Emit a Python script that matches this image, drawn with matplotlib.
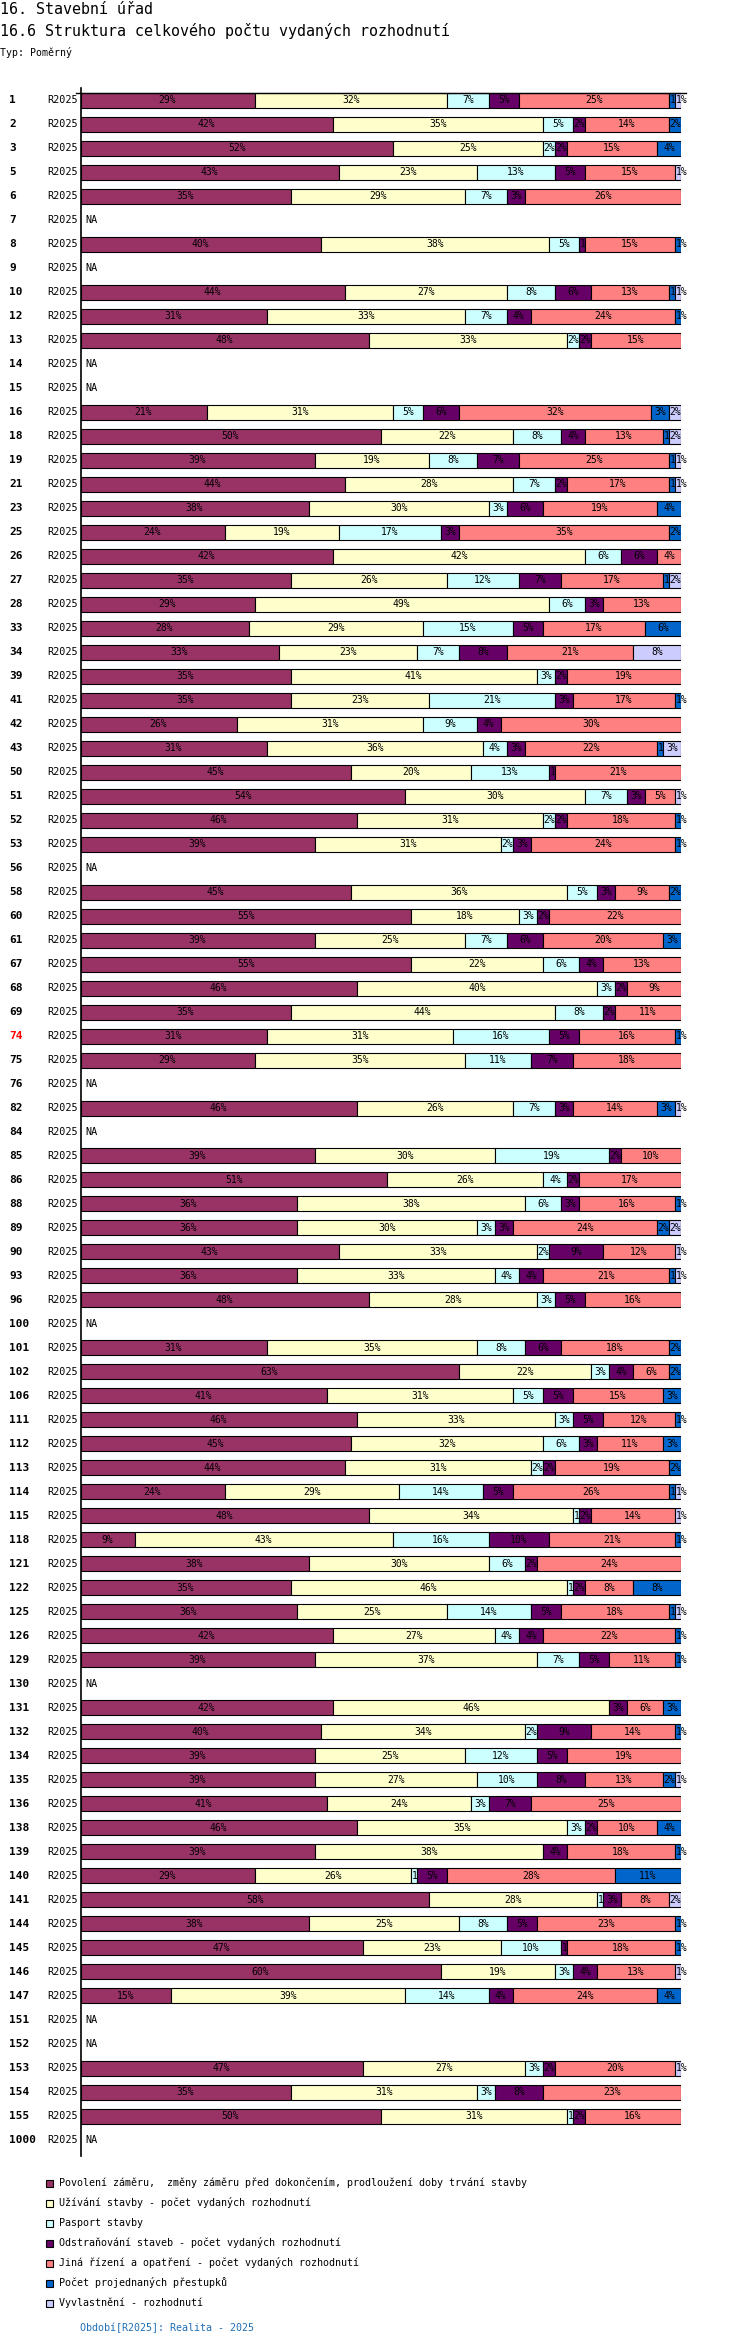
import matplotlib
matplotlib.use('Agg')
import matplotlib.pyplot as plt
from matplotlib.patches import Rectangle
from matplotlib.transforms import blended_transform_factory

plt.rcParams['font.family'] = ['DejaVu Sans Mono', 'DejaVu Sans']

# --- data (percent shares per municipality, None = NA) ---
rows = [1, 2, 3, 5, 6, 7, 8, 9, 10, 12, 13, 14, 15, 16, 18, 19, 21, 23, 25, 26,
        27, 28, 33, 34, 39, 41, 42, 43, 50, 51, 52, 53, 56, 58, 60, 61, 67, 68, 69, 74,
        75, 76, 82, 84, 85, 86, 88, 89, 90, 93, 96, 100, 101, 102, 106, 111, 112, 113, 114, 115,
        118, 121, 122, 125, 126, 129, 130, 131, 132, 134, 135, 136, 138, 139, 140, 141, 144, 145, 146, 147,
        151, 152, 153, 154, 155, 1000]
highlight_row = 74
period = 'R2025'

N = None
povoleni = [29, 42, 52, 43, 35, N, 40, N, 44, 31, 48, N, N, 21, 50, 39, 44, 38, 24, 42,
            35, 29, 28, 33, 35, 35, 26, 31, 45, 54, 46, 39, N, 45, 55, 39, 55, 46, 35, 31,
            29, N, 46, N, 39, 51, 36, 36, 43, 36, 48, N, 31, 63, 41, 46, 45, 44, 24, 48,
            9, 38, 35, 36, 42, 39, N, 42, 40, 39, 39, 41, 46, 39, 29, 58, 38, 47, 60, 15,
            N, N, 47, 35, 50, N]
uzivani = [32, 35, 25, 23, 29, N, 38, N, 27, 33, 33, N, N, 31, 22, 19, 28, 30, 19, 42,
           26, 49, 29, 23, 41, 23, 31, 36, 20, 30, 31, 31, N, 36, 18, 25, 22, 40, 44, 31,
           35, N, 26, N, 30, 26, 38, 30, 33, 33, 28, N, 35, 22, 31, 33, 32, 31, 29, 34,
           43, 30, 46, 25, 27, 37, N, 46, 34, 25, 27, 24, 35, 38, 26, 28, 25, 23, 19, 39,
           N, N, 27, 31, 31, N]
pasport = [7, 5, 2, 13, 7, N, 5, N, 8, 7, 2, N, N, 5, 8, 8, 7, 3, 17, 6,
           12, 6, 15, 7, 3, 21, 9, 4, 13, 7, 2, 2, N, 5, 3, 7, 6, 3, 8, 16,
           11, N, 7, N, 19, 4, 6, 3, 2, 4, 3, N, 8, 3, 5, 3, 6, 2, 14, 1,
           16, 6, 1, 14, 4, 7, N, 0, 2, 12, 10, 3, 3, 0, 1, 1, 8, 10, 3, 14,
           N, N, 3, 3, 1, N]
odstranovani = [5, 2, 2, 5, 3, N, 1, N, 6, 4, 2, N, N, 6, 4, 7, 2, 6, 3, 6,
                7, 3, 5, 8, 2, 3, 4, 3, 1, 3, 2, 3, N, 3, 2, 6, 4, 2, 2, 5,
                7, N, 3, N, 2, 2, 3, 3, 9, 4, 5, N, 6, 4, 5, 5, 3, 2, 5, 2,
                10, 2, 2, 5, 4, 5, N, 3, 9, 5, 8, 7, 2, 4, 5, 3, 5, 1, 4, 4,
                N, N, 2, 8, 2, N]
jina = [25, 14, 15, 15, 26, N, 15, N, 13, 24, 15, N, N, 32, 13, 25, 17, 19, 35, 4,
        17, 13, 17, 21, 19, 17, 30, 22, 21, 5, 18, 24, N, 9, 22, 20, 13, 9, 11, 16,
        18, N, 14, N, 10, 17, 16, 24, 12, 21, 16, N, 18, 6, 15, 12, 11, 19, 26, 14,
        21, 24, 8, 18, 22, 11, N, 6, 14, 19, 13, 25, 10, 18, 28, 8, 23, 18, 13, 24,
        N, N, 20, 23, 16, N]
prestupky = [1, 2, 4, 0, 0, N, 1, N, 1, 1, 0, N, N, 3, 1, 1, 1, 4, 2, 0,
             1, 0, 6, 0, 0, 1, 0, 1, 0, 0, 1, 1, N, 2, 0, 3, 0, 0, 0, 1,
             0, N, 3, N, 0, 0, 1, 2, 0, 1, 0, N, 2, 2, 3, 1, 3, 2, 1, 0,
             1, 0, 8, 1, 1, 1, N, 3, 1, 0, 2, 0, 4, 1, 11, 0, 1, 1, 0, 4,
             N, N, 0, 0, 0, N]
vyvlastneni = [1, 0, 0, 1, 0, N, 0, N, 1, 0, 0, N, N, 2, 2, 1, 1, 0, 0, 0,
               2, 0, 0, 8, 0, 0, 0, 3, 0, 1, 0, 0, N, 0, 0, 0, 0, 0, 0, 0,
               0, N, 1, N, 0, 0, 0, 2, 1, 1, 0, N, 0, 0, 0, 0, 0, 0, 1, 1,
               0, 0, 0, 1, 0, 0, N, 0, 0, 0, 1, 0, 0, 0, 0, 2, 0, 0, 1, 0,
               N, N, 1, 0, 0, N]

series = [povoleni, uzivani, pasport, odstranovani, jina, prestupky, vyvlastneni]
series_names = [
    'Povolení záměru,  změny záměru před dokončením, prodloužení doby trvání stavby',
    'Užívání stavby - počet vydaných rozhodnutí',
    'Pasport stavby',
    'Odstraňování staveb - počet vydaných rozhodnutí',
    'Jiná řízení a opatření - počet vydaných rozhodnutí',
    'Počet projednaných přestupků',
    'Vyvlastnění - rozhodnutí',
]
colors = ['#993366', '#FFFFCC', '#CCFFFF', '#660066', '#FF8080', '#0066CC', '#CCCCFF']

# --- layout in pixels ---
W, H = 750, 2346
X0, X1 = 80.5, 681        # bar start / end
Y_TOP, Y_BOT = 88, 2156   # axis line
ROW0, PITCH = 100, 24     # first row centre, row spacing
BAR_H = 15 / PITCH


def fx(px):
    return px / W


def fy(py):
    return 1 - py / H


fig = plt.figure(figsize=(W / 100, H / 100), dpi=100)
fig.text(fx(0), fy(9), '16. Stavební úřad', fontsize=10.8, va='center', ha='left')
fig.text(fx(0), fy(31), '16.6 Struktura celkového počtu vydaných rozhodnutí', fontsize=10.8,
         va='center', ha='left')
fig.text(fx(0), fy(52), 'Typ: Poměrný', fontsize=7.1, va='center', ha='left')

ax = fig.add_axes([fx(X0), fy(Y_BOT), fx(X1) - fx(X0), (Y_BOT - Y_TOP) / H])
ax.set_xlim(0, 100)
ax.set_ylim((Y_BOT - ROW0) / PITCH, (Y_TOP - ROW0) / PITCH)
for s in ['top', 'right', 'bottom']:
    ax.spines[s].set_visible(False)
ax.spines['left'].set_linewidth(1.2)
ax.spines['left'].set_zorder(30)
ax.set_xticks([])
ax.set_yticks([])

trans = blended_transform_factory(fig.transFigure, ax.transData)
px_per_unit = (X1 - X0) / 100.0

totals = []
for i in range(len(rows)):
    if povoleni[i] is None:
        totals.append(None)
    else:
        totals.append(sum(s[i] for s in series))

lefts = [0.0] * len(rows)
for k, s in enumerate(series):
    ys, ws, ls = [], [], []
    for i, v in enumerate(s):
        if v is None or v == 0:
            continue
        w = v * 100.0 / totals[i]
        ys.append(i)
        ws.append(w)
        ls.append(lefts[i])
        label = '%d%%' % v
        if w * px_per_unit < len(label) * 5.8:
            ax.text(lefts[i] + 0.1, i, label, ha='left', va='center', fontsize=7,
                    zorder=3 + 2 * k, clip_on=False)
        else:
            ax.text(lefts[i] + w / 2, i, label, ha='center', va='center', fontsize=7,
                    zorder=3 + 2 * k, clip_on=False)
        lefts[i] += w
    ax.barh(ys, ws, left=ls, height=BAR_H, color=colors[k], edgecolor='black',
            linewidth=0.8, zorder=2 + 2 * k)

# row labels
for i, r in enumerate(rows):
    ax.text(fx(9.5), i, str(r), transform=trans, ha='left', va='center', fontsize=8,
            fontweight='bold', color='red' if r == highlight_row else 'black')
    ax.text(fx(77.5), i, period, transform=trans, ha='right', va='center', fontsize=7.3)
    if totals[i] is None:
        ax.text(fx(85), i, 'NA', transform=trans, ha='left', va='center', fontsize=7.3)

# top line
ax.plot([fx(75.5), fx(686)], [-BAR_H / 2, -BAR_H / 2], transform=trans, color='black',
        lw=1, clip_on=False, zorder=30)

# legend
for k, name in enumerate(series_names):
    yc = 2183 + 20 * k
    fig.patches.append(Rectangle((fx(45.5), fy(yc + 3.5)), 7 / W, 7 / H, transform=fig.transFigure,
                                 facecolor=colors[k], edgecolor='black', linewidth=0.8))
    fig.text(fx(59), fy(yc), name, fontsize=7.2, va='center', ha='left')

fig.text(fx(79.5), fy(2328), 'Období[R2025]: Realita - 2025', fontsize=7.2, va='center',
         ha='left', color='#1f6fb5')

fig.savefig('out.png', dpi=100)
